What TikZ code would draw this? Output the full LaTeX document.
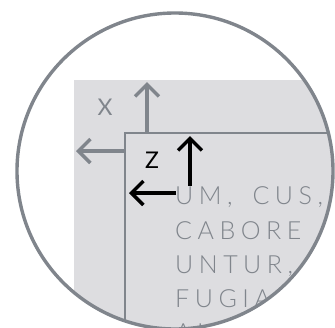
\documentclass[tikz,border=0pt]{standalone}
\usepackage{fontspec}
\setmainfont{Lato}
\newfontfamily\bodyfont[LetterSpace=22,UprightFont=* Light]{Lato}
\usetikzlibrary{arrows.meta}
\definecolor{frame}{HTML}{80858C}
\definecolor{paper}{HTML}{DDDDE0}
\tikzset{
  axisarrow/.style={line width=3.4pt,-{Straight Barb[length=12pt,width=24pt,line width=3.4pt]}},
  bodyline/.style={anchor=base west,inner sep=0pt,text=frame,font=\bodyfont\fontsize{25}{25}\selectfont},
  axislabel/.style={inner sep=0pt,font=\fontsize{23}{23}\selectfont}
}
\begin{document}
\begin{tikzpicture}[x=1pt,y=-1pt]
\useasboundingbox (0,0) rectangle (335,327);
\begin{scope}
\clip (175,171) circle (158);
\fill[paper] (74,80) rectangle (340,340);
\filldraw[fill=paper,draw=frame,line width=2pt] (125,133) rectangle (345,345);
\coordinate (gx0) at (147,133);
\coordinate (gx1) at (147,82);
\coordinate (gz0) at (125,151);
\coordinate (gz1) at (76,151);
\draw[axisarrow,frame] (gx0) -- (gx1);
\draw[axisarrow,frame] (gz0) -- (gz1);
\node[axislabel,text=frame] (lx) at (105,107.5) {X};
\coordinate (bx0) at (190,186);
\coordinate (bx1) at (190,136);
\coordinate (bz0) at (176,193);
\coordinate (bz1) at (129,193);
\draw[axisarrow,black] (bx0) -- (bx1);
\draw[axisarrow,black] (bz0) -- (bz1);
\node[axislabel,text=black] (lz) at (152,160) {Z};
\node[bodyline] (t1) at (175,204) {UM,\hspace{20pt}CUS,};
\node[bodyline] (t2) at (175,239) {CABORE};
\node[bodyline] (t3) at (175,273) {UNTUR,};
\node[bodyline] (t4) at (175,307) {FUGIA};
\node[bodyline] (t5) at (175,341) {AL};
\end{scope}
\draw[frame,line width=3.4pt] (175,171) circle (158);
\end{tikzpicture}
\end{document}
